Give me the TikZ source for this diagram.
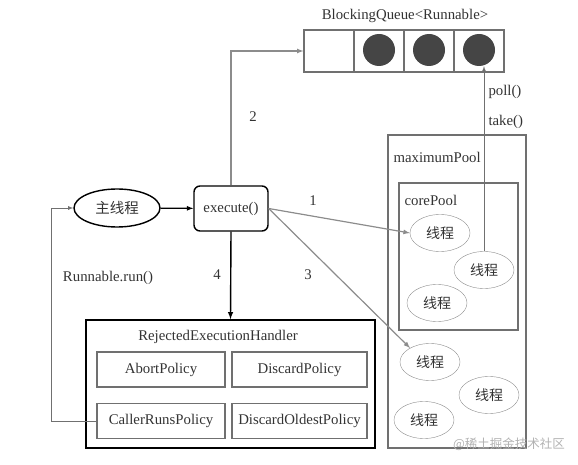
\documentclass[tikz,border=0pt]{standalone}
\usepackage{xcolor}
\usepackage{fontspec}
\setmainfont{Liberation Serif}
\newfontfamily\cjk{Noto Sans CJK SC}
\usepackage{tikz}
\usetikzlibrary{positioning,shapes,arrows,calc}

\definecolor{inkgray}{HTML}{333333}
\definecolor{linegray}{HTML}{8C8C8C}
\definecolor{boxgray}{HTML}{707070}
\definecolor{dotgray}{HTML}{454545}

\tikzset{
  cell/.style={draw=boxgray, line width=1.2pt, minimum width=50pt, minimum height=42pt, inner sep=0pt},
  dot/.style={circle, fill=dotgray, minimum size=32pt, inner sep=0pt},
  thread/.style={ellipse, draw=linegray, minimum width=60pt, minimum height=37pt, inner sep=0pt, font=\cjk\fontsize{14}{16}\selectfont},
  policy/.style={draw=boxgray, line width=1.6pt, minimum width=128pt, minimum height=35pt, inner sep=0pt},
  pool/.style={draw=boxgray, line width=1.4pt, inner sep=0pt},
  grayarrow/.style={draw=linegray, line width=1.2pt, -latex},
}

\begin{document}
\begin{tikzpicture}[x=1pt, y=-1pt, font=\fontsize{14.8}{17}\selectfont, text=inkgray]
    \useasboundingbox (0,0) rectangle (578,465);

    % Queue
    \node (qtitle) at (405,16) {BlockingQueue<Runnable>};
    \foreach \i/\x in {0/329, 1/379, 2/429, 3/479}
        \node[cell] (q\i) at (\x,51) {};
    \foreach \i/\x in {1/379, 2/429, 3/479}
        \node[dot] (c\i) at (\x,50) {};

    % main thread and execute
    \node[ellipse, draw=black, line width=1.4pt, minimum width=86pt, minimum height=38pt,
          inner sep=0pt, font=\cjk\fontsize{14.5}{16}\selectfont] (main) at (117,208) {主线程};
    \node[draw=black, line width=1.4pt, rounded corners=6pt, minimum width=74pt,
          minimum height=45pt, inner sep=0pt] (exec) at (231,208.5) {execute()};
    \draw[line width=1.2pt, -latex] (main) -- (exec);

    % Pools
    \node[pool, minimum width=138pt, minimum height=313pt] (maxpool) at (457,291.5) {};
    \node[anchor=west] (maxlabel) at (390,157) {maximumPool};
    \node[pool, minimum width=119pt, minimum height=147pt] (corepool) at (458.5,256.5) {};
    \node[anchor=west] (corelabel) at (401,200) {corePool};
    \node[thread] (t1) at (440,233) {线程};
    \node[thread] (t2) at (484,270) {线程};
    \node[thread] (t3) at (437,303) {线程};
    \node[thread] (m1) at (430,362) {线程};
    \node[thread] (m2) at (489,395) {线程};
    \node[thread] (m3) at (424,420) {线程};

    % Rejected handler
    \node[draw=black, line width=1.6pt, minimum width=289pt, minimum height=128pt] (handler) at (230.5,384) {};
    \node (htitle) at (218,337) {RejectedExecutionHandler};
    \node[policy] (abort) at (161,369.5) {AbortPolicy};
    \node[policy, minimum width=135pt] (discard) at (299.5,369.5) {DiscardPolicy};
    \node[policy] (callerruns) at (161,421) {CallerRunsPolicy};
    \node[policy, minimum width=135pt] (oldest) at (299.5,421) {DiscardOldestPolicy};

    % Connectors
    \draw[grayarrow] (exec.north) |- (q0.west);
    \node (n2) at (253,117) {2};
    \draw[grayarrow] (exec.east) -- (t1.west);
    \node (n1) at (313,201) {1};
    \draw[grayarrow] (exec.east) -- (m1.145);
    \node (n3) at (308,275) {3};
    \draw[line width=1.4pt, -latex] (exec.south) -- (handler.north);
    \node (n4) at (217,275) {4};
    \draw[draw=boxgray, line width=0.8pt, -latex] (t2.north) -- (t2.north |- c3.south);
    \node[anchor=west] (poll) at (485,92) {poll()};
    \node[anchor=west] (take) at (485,122) {take()};
    \draw[draw=boxgray, line width=0.8pt, -latex] (callerruns.west) -- ++(-45,0) |- (main.west);
    \node (runlabel) at (108,278) {Runnable.run()};

    % watermark
    \node[text=black!30, font=\cjk\fontsize{12.5}{14}\selectfont] (mark) at (509,444) {@稀土掘金技术社区};
\end{tikzpicture}
\end{document}
